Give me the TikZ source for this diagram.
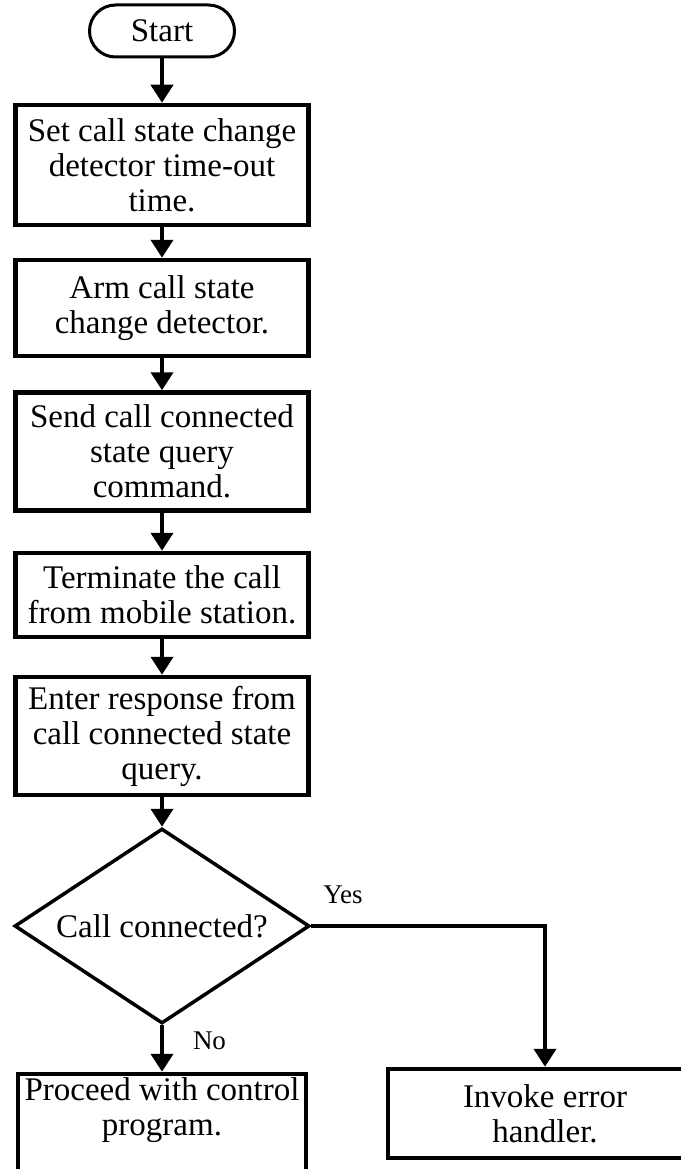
\documentclass[tikz,border=0pt]{standalone}
\usepackage{fontspec}
\setmainfont{Liberation Serif}
\usetikzlibrary{arrows.meta, positioning, shapes.geometric}

\begin{document}
\begin{tikzpicture} [%
    x = 1pt, y = -1pt,
    ->,
    >= { Triangle[width=22pt, length=18pt] },
    on grid,
    line width = 4pt,
    every node/.style = { font = \fontsize{33}{35}\selectfont },
    process/.style = {%
      draw, rectangle, align = center,
      inner sep = 0pt,
      minimum width = 293pt,
      line width = 4.5pt },
    startstop/.style = {%
      draw, rectangle, rounded corners = 26pt,
      minimum width = 145pt, minimum height = 52pt,
      inner sep = 0pt,
      line width = 3pt },
    decision/.style = {%
      draw, diamond, aspect = 1.5, inner sep = 0pt,
      minimum width = 295pt, minimum height = 195pt,
      line width = 3.5pt },
    answer/.style = {%
      font = \fontsize{27}{30}\selectfont, inner sep = 0pt }
  ]

  \useasboundingbox (0,0) rectangle (680,1169);

  \node[startstop] (start) at (162,31) {Start};
  \node[process, minimum height=120pt] (settime) [below=134pt of start]
    {Set call state change\\detector time-out\\time.};
  \node[process, minimum height=96pt] (arm) [below=143pt of settime]
    {Arm call state\\change detector.};
  \node[process, minimum height=118pt] (send) [below=143.5pt of arm]
    {Send call connected\\state query\\command.};
  \node[process, minimum height=84pt] (term) [below=143.5pt of send]
    {Terminate the call\\from mobile station.};
  \node[process, minimum height=118pt] (enter) [below=141pt of term]
    {Enter response from\\call connected state\\query.};
  \node[decision] (conn) [below=190pt of enter] {Call connected?};
  \node[process, minimum width=288pt, minimum height=110pt] (proceed)
    [below=203pt of conn] {Proceed with control\\program.\\ \strut};
  \node[process, minimum width=314pt, minimum height=89pt] (invoke)
    at (545,1113.5) {Invoke error\\handler.};

  \draw (start) -- (settime);
  \draw (settime) -- (arm);
  \draw (arm) -- (send);
  \draw (send) -- (term);
  \draw (term) -- (enter);
  \draw (enter) -- (conn);
  \draw (conn.east) -| node[answer, pos=0, anchor=south west,
    xshift=10pt, yshift=20pt] {Yes} (invoke.north);
  \draw (conn.south) -- node[answer, pos=0, anchor=north west,
    xshift=29pt, yshift=-4.5pt] {No} (proceed.north);

\end{tikzpicture}
\end{document}
